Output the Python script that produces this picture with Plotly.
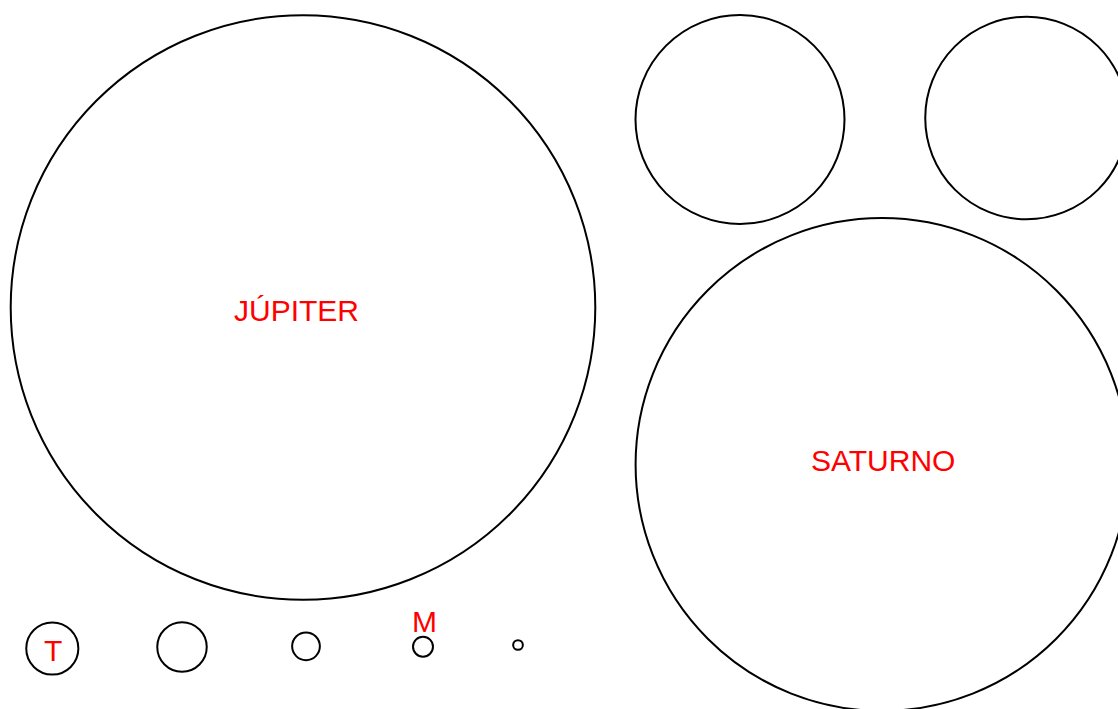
import plotly.graph_objects as go

# Data: planet radii (km) and labels
planets = ["Júpiter", "Saturno", "Urano", "Neptuno", "Tierra", "Venus", "Marte", "Mercurio", "Plutón"]
radius_km = [71492, 60268, 25559, 24764, 6371, 6052, 3390, 2440, 1188]
labels = ["JÚPITER", "SATURNO", "", "", "T", "", "", "M", ""]

# Layout (pixel positions of circle centers and labels)
W, H = 1118, 709
px_per_km = 292.3 / 71492
centers = [(303, 307.5), (882, 464.5), (740, 119.5), (1026.5, 118), (52.3, 648.5),
           (182, 647), (306, 646.3), (423, 646.7), (518, 645)]
label_pos = [(296, 310), (883, 460), None, None, (53, 650), None, None, (424, 621), None]

fig = go.Figure()
# invisible trace to establish axes
fig.add_trace(go.Scatter(x=[c[0] for c in centers], y=[c[1] for c in centers],
                         mode="markers", marker=dict(size=0, opacity=0),
                         hoverinfo="text", text=planets, showlegend=False))

for (cx, cy), r_km in zip(centers, radius_km):
    r = r_km * px_per_km
    fig.add_shape(type="circle", xref="x", yref="y",
                  x0=cx - r, x1=cx + r, y0=cy - r, y1=cy + r,
                  line=dict(color="black", width=2), fillcolor="rgba(0,0,0,0)")

for lab, pos in zip(labels, label_pos):
    if lab and pos:
        fig.add_annotation(x=pos[0], y=pos[1], xref="x", yref="y", text=lab,
                           showarrow=False, xanchor="center", yanchor="middle",
                           font=dict(family="Liberation Sans, Arial, sans-serif", size=30, color="red"))

fig.update_layout(
    width=W, height=H, margin=dict(l=0, r=0, t=0, b=0),
    paper_bgcolor="white", plot_bgcolor="white",
    xaxis=dict(range=[0, W], visible=False, fixedrange=True),
    yaxis=dict(range=[H, 0], visible=False, fixedrange=True),
    showlegend=False,
)

fig.write_html("out.html", config={"displayModeBar": False},
               post_script="document.body.style.margin='0';document.body.style.overflow='hidden';")
